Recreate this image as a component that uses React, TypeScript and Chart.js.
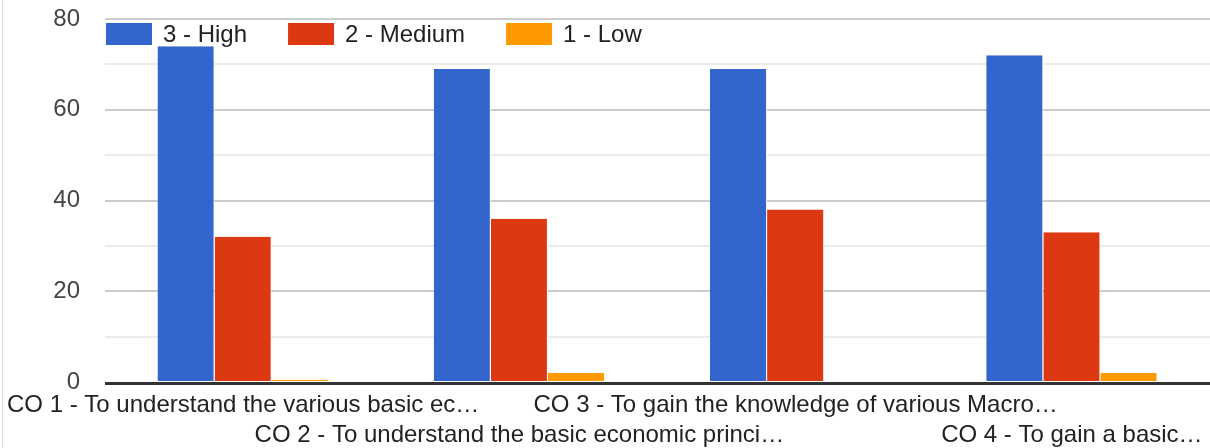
import React, { useEffect, useRef } from "react";
import { Chart, registerables } from "chart.js";

Chart.register(...registerables);

const categories = [
  "CO 1 - To understand the various basic ec…",
  "CO 2 - To understand the basic economic princi…",
  "CO 3 - To gain the knowledge of various Macro…",
  "CO 4 - To gain a basic…",
];
const seriesNames = ["3 - High", "2 - Medium", "1 - Low"];
const highValues = [74, 69, 69, 72];
const mediumValues = [32, 36, 38, 33];
const lowValues = [0.5, 2, 0, 2];
const yTickLabels = [0, 20, 40, 60, 80];

const FONT = "Arial, 'Liberation Sans', sans-serif";

const overlayPlugin = {
  id: "overlay",
  afterDatasetsDraw(chart: any) {
    const { ctx, chartArea } = chart;
    ctx.save();
    // baseline
    const y0 = chart.scales.y.getPixelForValue(0);
    ctx.fillStyle = "#333333";
    ctx.fillRect(chartArea.left, y0, chartArea.right - chartArea.left, 3);
    // legend inside the plot
    ctx.font = `24px ${FONT}`;
    ctx.textBaseline = "middle";
    ctx.textAlign = "left";
    let x = chartArea.left + 1;
    const top = chartArea.top + 4;
    chart.data.datasets.forEach((ds: any) => {
      ctx.fillStyle = ds.backgroundColor;
      ctx.fillRect(x, top, 46, 22);
      ctx.fillStyle = "#222222";
      ctx.fillText(ds.label, x + 57, top + 12);
      x += 57 + ctx.measureText(ds.label).width + 41;
    });
    ctx.restore();
  },
};

export default function App() {
  const ref = useRef<HTMLCanvasElement | null>(null);

  useEffect(() => {
    if (!ref.current) return;
    const colors = ["#3366cc", "#dc3912", "#ff9900"];
    const series = [highValues, mediumValues, lowValues];
    const chart = new Chart(ref.current, {
      type: "bar",
      data: {
        labels: categories.map((c, i) => (i % 2 === 0 ? [c, ""] : ["", c])),
        datasets: series.map((vals, i) => ({
          label: seriesNames[i],
          data: vals,
          backgroundColor: colors[i],
          borderColor: "#ffffff",
          borderWidth: { left: 0, top: 0, bottom: 0, right: 1 },
          borderSkipped: false,
          categoryPercentage: 0.62,
          barPercentage: 1,
        })),
      },
      options: {
        animation: false,
        responsive: false,
        maintainAspectRatio: false,
        layout: { padding: { top: 19, bottom: 0, left: 0, right: 0 } },
        plugins: {
          legend: { display: false },
          tooltip: { enabled: false },
          title: { display: false },
        },
        scales: {
          x: {
            grid: { display: false, drawTicks: false },
            border: { display: false },
            ticks: {
              autoSkip: false,
              maxRotation: 0,
              minRotation: 0,
              padding: 8,
              color: "#222222",
              font: { family: FONT, size: 24, lineHeight: 1.25 },
            },
            afterFit(scale: any) {
              scale.paddingLeft = 0;
              scale.paddingRight = 0;
              scale.height = 66;
            },
          },
          y: {
            min: 0,
            max: 80,
            border: { display: false },
            grid: {
              drawTicks: false,
              lineWidth: 2,
              color: (c: any) => {
                const v = c.tick ? c.tick.value : 0;
                if (v === 0) return "rgba(0,0,0,0)";
                return v % 20 === 0 ? "#cccccc" : "#ebebeb";
              },
            },
            ticks: {
              stepSize: 10,
              padding: 25,
              color: "#444444",
              font: { family: FONT, size: 24 },
              callback: (v: any) => (yTickLabels.includes(Number(v)) ? String(v) : ""),
            },
            afterFit(scale: any) {
              scale.width = 105;
              scale.paddingTop = 0;
              scale.paddingBottom = 0;
            },
          },
        },
      },
      plugins: [overlayPlugin],
    });
    return () => chart.destroy();
  }, []);

  return (
    <div style={{ position: "absolute", left: 0, top: 0, width: 1210, height: 448, background: "#fff" }}>
      <div style={{ position: "absolute", left: 2, top: 0, width: 1, height: 448, background: "#dddddd" }} />
      <canvas ref={ref} width={1210} height={448} style={{ position: "absolute", left: 0, top: 0 }} />
    </div>
  );
}
